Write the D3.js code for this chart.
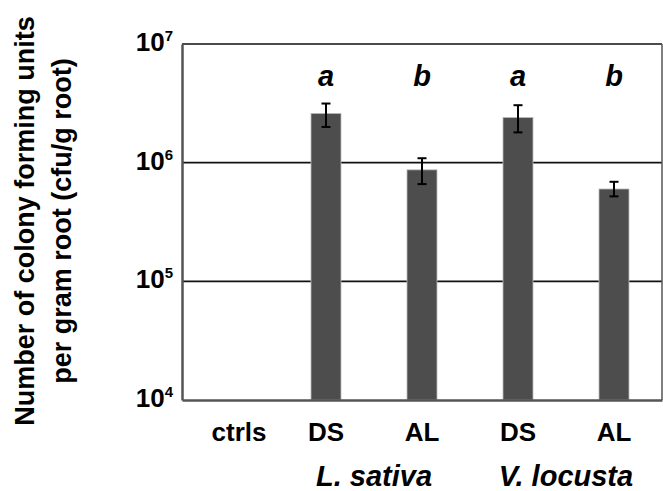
<!DOCTYPE html>
<html>
<head>
<meta charset="utf-8">
<script src="https://cdn.jsdelivr.net/npm/d3@7"></script>
<style>
body { margin: 0; background: #fff; }
svg text { font-family: "Liberation Sans", Arial, sans-serif; font-weight: bold; }
</style>
</head>
<body>
<div id="chart"></div>
<script>
// categories and values
const categories = ['ctrls', 'DS1', 'AL1', 'DS2', 'AL2'];
const tickNames = ['ctrls', 'DS', 'AL', 'DS', 'AL'];
const means = [null, 2.6e6, 8.7e5, 2.4e6, 6.0e5];
const errLow = [null, 2.0e6, 6.6e5, 1.8e6, 5.2e5];
const errHigh = [null, 3.15e6, 1.09e6, 3.05e6, 6.9e5];
const letters = [null, 'a', 'b', 'a', 'b'];
const yTicks = [1e4, 1e5, 1e6, 1e7];
const species = [{name: 'L. sativa', from: 'DS1', to: 'AL1'}, {name: 'V. locusta', from: 'DS2', to: 'AL2'}];

const width = 663, height = 491;
const margin = {top: 44, right: 1, bottom: 91, left: 182};
const innerW = width - margin.left - margin.right;
const innerH = height - margin.top - margin.bottom;

const svg = d3.select('#chart').append('svg')
	.attr('width', width)
	.attr('height', height);

const g = svg.append('g')
	.attr('transform', `translate(${margin.left},${margin.top})`);

const x = d3.scaleBand()
	.domain(categories)
	.range([0, innerW])
	.paddingInner(0.6875)
	.paddingOuter(0.34375);

const y = d3.scaleLog()
	.domain([1e4, 1e7])
	.range([innerH, 0]);

//gridlines at 10^5 and 10^6, top line at 10^7
g.selectAll('.grid')
	.data(yTicks.slice(1))
	.join('line')
	.attr('class', 'grid')
	.attr('x1', 0)
	.attr('x2', innerW)
	.attr('y1', d => y(d))
	.attr('y2', d => y(d))
	.attr('stroke', '#111')
	.attr('stroke-width', 1.6);

//right border
g.append('line')
	.attr('x1', innerW).attr('x2', innerW)
	.attr('y1', 0).attr('y2', innerH)
	.attr('stroke', '#555')
	.attr('stroke-width', 1.5);

//bars
const data = categories.map((c, i) => ({cat: c, mean: means[i], lo: errLow[i], hi: errHigh[i], letter: letters[i]}))
	.filter(d => d.mean !== null);

g.selectAll('.bar')
	.data(data)
	.join('rect')
	.attr('class', 'bar')
	.attr('x', d => x(d.cat))
	.attr('y', d => y(d.mean))
	.attr('width', x.bandwidth())
	.attr('height', d => innerH - y(d.mean))
	.attr('fill', '#4d4d4d')
	.attr('stroke', '#bbb')
	.attr('stroke-width', 0.8);

//error bars
const cx = d => x(d.cat) + x.bandwidth() / 2;
const err = g.selectAll('.err')
	.data(data)
	.join('g')
	.attr('class', 'err')
	.attr('stroke', '#000')
	.attr('stroke-width', 2);
err.append('line')
	.attr('x1', cx).attr('x2', cx)
	.attr('y1', d => y(d.lo)).attr('y2', d => y(d.hi));
err.append('line')
	.attr('x1', d => cx(d) - 4.5).attr('x2', d => cx(d) + 4.5)
	.attr('y1', d => y(d.hi)).attr('y2', d => y(d.hi));
err.append('line')
	.attr('x1', d => cx(d) - 4.5).attr('x2', d => cx(d) + 4.5)
	.attr('y1', d => y(d.lo)).attr('y2', d => y(d.lo));

//significance letters
g.selectAll('.letter')
	.data(data)
	.join('text')
	.attr('class', 'letter')
	.attr('x', cx)
	.attr('y', 42)
	.attr('text-anchor', 'middle')
	.style('font-style', 'italic')
	.style('font-size', '29px')
	.text(d => d.letter);

//y axis
const yAxis = g.append('g')
	.call(d3.axisLeft(y).tickValues(yTicks).tickSize(0).tickFormat(''));
yAxis.select('.domain').attr('stroke', '#555').attr('stroke-width', 2.5);

const yLab = g.selectAll('.ylab')
	.data(yTicks)
	.join('text')
	.attr('class', 'ylab')
	.attr('x', -9)
	.attr('y', d => y(d) + 7)
	.attr('text-anchor', 'end')
	.style('font-size', '26px');
yLab.append('tspan').text('10');
yLab.append('tspan')
	.attr('dy', -10)
	.style('font-size', '15px')
	.text(d => Math.round(Math.log10(d)));

//x axis
const xAxis = g.append('g')
	.attr('transform', `translate(0,${innerH})`)
	.call(d3.axisBottom(x).tickSize(0).tickFormat((d, i) => tickNames[i]));
xAxis.select('.domain').attr('stroke', '#555').attr('stroke-width', 2.5);
xAxis.selectAll('text')
	.attr('dy', 0)
	.attr('y', 41)
	.attr('dx', (d, i) => i === 0 ? 9 : 0)
	.attr('fill', '#000')
	.style('font-size', '26px')
	.style('font-family', '"Liberation Sans", Arial, sans-serif')
	.style('font-weight', 'bold');

//species labels
g.selectAll('.species')
	.data(species)
	.join('text')
	.attr('class', 'species')
	.attr('x', d => (x(d.from) + x(d.to) + x.bandwidth()) / 2)
	.attr('y', innerH + 86)
	.attr('text-anchor', 'middle')
	.style('font-style', 'italic')
	.style('font-size', '29px')
	.text(d => d.name);

//y title
svg.append('text')
	.attr('transform', 'translate(34,221) rotate(-90)')
	.attr('text-anchor', 'middle')
	.style('font-size', '27px')
	.text('Number of colony forming units');
svg.append('text')
	.attr('transform', 'translate(71,221) rotate(-90)')
	.attr('text-anchor', 'middle')
	.style('font-size', '27px')
	.text('per gram root (cfu/g root)');
</script>
</body>
</html>
